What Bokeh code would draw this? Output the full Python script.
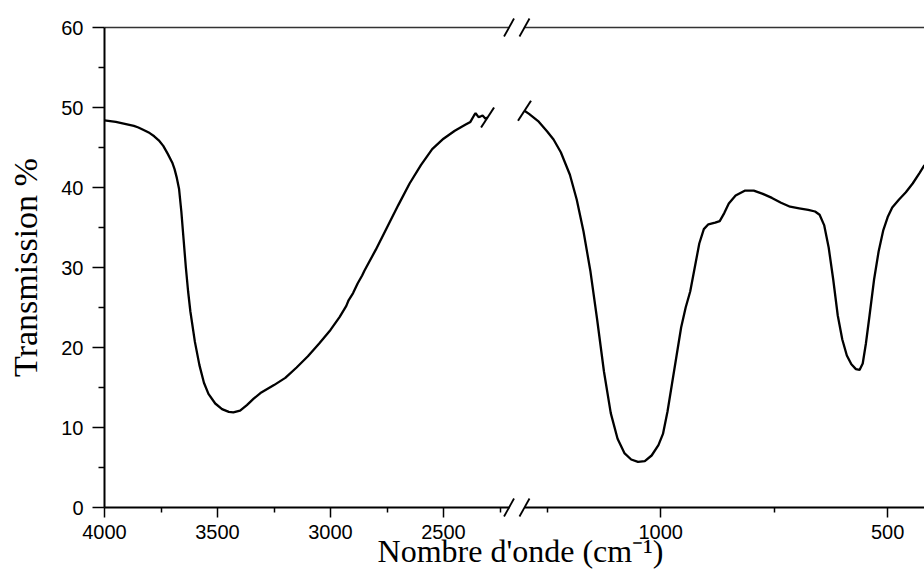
from bokeh.plotting import figure
from bokeh.models import Range1d, LinearAxis, FixedTicker, Arrow, Label
from bokeh.embed import file_html
from bokeh.resources import INLINE

# ---------------- data ----------------
wn_high = [4000, 3950, 3900, 3870, 3850, 3820, 3800, 3780, 3760, 3740, 3720, 3700,
           3690, 3680, 3670, 3660, 3650, 3640, 3630, 3620, 3600, 3580, 3560, 3540,
           3510, 3480, 3450, 3430, 3400, 3370, 3340, 3310, 3280, 3250, 3200, 3150,
           3100, 3050, 3000, 2960, 2930, 2920, 2900, 2880, 2860, 2850, 2800, 2750,
           2700, 2650, 2600, 2550, 2500, 2450, 2425, 2400, 2381, 2365, 2358, 2345,
           2335, 2327, 2314, 2305]
t_high = [48.4, 48.2, 47.9, 47.7, 47.5, 47.1, 46.8, 46.4, 45.9, 45.2, 44.2, 43.1,
          42.3, 41.2, 39.8, 37.0, 33.5, 30.0, 27.0, 24.5, 20.7, 17.8, 15.6, 14.2,
          13.0, 12.3, 11.95, 11.9, 12.1, 12.8, 13.6, 14.3, 14.8, 15.3, 16.2, 17.5,
          18.9, 20.5, 22.2, 23.8, 25.2, 25.9, 26.8, 28.0, 29.0, 29.6, 32.2, 35.0,
          37.8, 40.5, 42.8, 44.8, 46.1, 47.1, 47.5, 47.9, 48.2, 49.0, 49.3, 48.8,
          48.9, 49.0, 48.6, 48.75]

wn_low = [1300, 1290, 1270, 1250, 1236, 1220, 1200, 1185, 1170, 1155, 1140, 1125,
          1110, 1095, 1080, 1065, 1050, 1035, 1020, 1005, 995, 985, 975, 965, 955,
          945, 935, 925, 915, 905, 895, 880, 870, 860, 850, 835, 815, 795, 775, 755,
          735, 715, 695, 675, 660, 650, 640, 630, 620, 610, 600, 590, 580, 570, 562,
          555, 548, 540, 530, 520, 510, 500, 490, 475, 460, 445, 430, 419]
t_low = [49.6, 49.2, 48.3, 47.0, 46.0, 44.4, 41.6, 38.5, 34.5, 29.6, 23.5, 17.0,
         11.8, 8.6, 6.8, 6.0, 5.7, 5.8, 6.5, 7.8, 9.2, 12.0, 15.5, 19.0, 22.5, 25.0,
         27.0, 30.0, 33.0, 34.8, 35.4, 35.6, 35.8, 36.8, 38.0, 39.0, 39.6, 39.6, 39.2,
         38.7, 38.1, 37.6, 37.4, 37.2, 37.0, 36.6, 35.3, 32.5, 28.5, 24.0, 21.0, 19.0,
         17.9, 17.3, 17.2, 18.0, 20.5, 24.0, 28.5, 32.0, 34.6, 36.3, 37.5, 38.5, 39.4,
         40.5, 41.8, 42.8]

y_ticks = [0, 10, 20, 30, 40, 50, 60]
y_minor = [5, 15, 25, 35, 45, 55]
x_ticks_high = [4000, 3500, 3000, 2500]
x_minor_high = [3750, 3250, 2750, 2250]
x_ticks_low = [1000, 500]
x_minor_low = [1250, 750]

# ---------------- layout constants ----------------
W, H = 924, 570
LEFT_PX, TOP_PX, BOTTOM_PX = 104, 27, 507   # plot-area edges in pixels
S1 = 113 / 500.0        # px per cm-1, high-wavenumber segment
S2 = 113.5 / 250.0      # px per cm-1, low-wavenumber segment
PY = (BOTTOM_PX - TOP_PX) / 60.0   # px per % unit
HI_START, HI_BREAK = 4000, 2210
LO_START, LO_END = 1300, 400
LO_PX = 524             # pixel where the low segment starts
Y_LO, Y_HI = 0, 60

# the frame covers the whole canvas; axes are pinned with fixed_location
p = figure(width=W, height=H, output_backend="svg", toolbar_location=None,
           x_range=Range1d(HI_START + LEFT_PX / S1, HI_START - (W - LEFT_PX) / S1),
           y_range=Range1d(Y_LO - (H - BOTTOM_PX) / PY, Y_HI + TOP_PX / PY),
           x_axis_location=None, y_axis_location=None,
           min_border=0, min_border_left=0, min_border_right=0,
           min_border_top=0, min_border_bottom=0,
           background_fill_color="white", border_fill_color="white",
           outline_line_color=None)
p.extra_x_ranges = {"r": Range1d(LO_START + LO_PX / S2, LO_START - (W - LO_PX) / S2)}
p.grid.visible = False

# curves
p.line(wn_high, t_high, line_color="black", line_width=2.3)
p.line(wn_low, t_low, line_color="black", line_width=2.3, x_range_name="r")

# break marks on curve ends
dx1, dy1 = 6.5 / S1, 10 / PY
p.segment(x0=[wn_high[-1] + dx1], y0=[t_high[-1] - dy1],
          x1=[wn_high[-1] - dx1], y1=[t_high[-1] + dy1],
          line_color="black", line_width=2)
dx2 = 6.5 / S2
p.segment(x0=[wn_low[0] + dx2], y0=[t_low[0] - dy1],
          x1=[wn_low[0] - dx2], y1=[t_low[0] + dy1],
          line_color="black", line_width=2, x_range_name="r")

# y axis
ya = LinearAxis(ticker=FixedTicker(ticks=y_ticks, minor_ticks=y_minor),
                bounds=(Y_LO, Y_HI), fixed_location=HI_START)
ya.axis_line_width = 2
ya.major_tick_out, ya.major_tick_in = 12, 0
ya.minor_tick_out, ya.minor_tick_in = 6, 0
ya.major_tick_line_width = 1.5
ya.minor_tick_line_width = 1.5
ya.major_label_standoff = 9
ya.major_label_text_font = "Liberation Sans"
ya.major_label_text_font_size = "20px"
ya.major_label_text_color = "black"
ya.axis_label = "Transmission %"
ya.axis_label_text_font = "Liberation Serif"
ya.axis_label_text_font_style = "normal"
ya.axis_label_text_font_size = "34px"
ya.axis_label_text_color = "black"
ya.axis_label_standoff = 14
p.add_layout(ya, "left")


def bottom_axis(ticks, minor, bounds, rname):
    ax = LinearAxis(ticker=FixedTicker(ticks=ticks, minor_ticks=minor),
                    bounds=bounds, fixed_location=Y_LO, x_range_name=rname)
    ax.axis_line_width = 2
    ax.major_tick_out, ax.major_tick_in = 10, 0
    ax.minor_tick_out, ax.minor_tick_in = 5, 0
    ax.major_tick_line_width = 1.5
    ax.minor_tick_line_width = 1.5
    ax.major_label_standoff = 7
    ax.major_label_text_font = "Liberation Sans"
    ax.major_label_text_font_size = "20px"
    ax.major_label_text_color = "black"
    return ax


def top_axis(bounds, rname):
    ax = LinearAxis(ticker=FixedTicker(ticks=[]), bounds=bounds,
                    fixed_location=Y_HI, x_range_name=rname)
    ax.axis_line_width = 1.5
    ax.axis_line_color = "#333333"
    ax.major_tick_out = ax.major_tick_in = 0
    ax.minor_tick_out = ax.minor_tick_in = 0
    ax.major_label_text_font_size = "0px"
    return ax


p.add_layout(bottom_axis(x_ticks_high, x_minor_high, (HI_BREAK, HI_START), "default"), "below")
p.add_layout(bottom_axis(x_ticks_low, x_minor_low, (LO_END, LO_START), "r"), "below")
p.add_layout(top_axis((HI_BREAK, HI_START), "default"), "above")
p.add_layout(top_axis((LO_END, LO_START), "r"), "above")

# axis break slashes
sx1, sx2, sy = 5 / S1, 5 / S2, 9 / PY
for yl in (Y_LO, Y_HI):
    p.add_layout(Arrow(end=None, x_start=HI_BREAK + sx1, y_start=yl - sy,
                       x_end=HI_BREAK - sx1, y_end=yl + sy,
                       line_color="black", line_width=1.8))
    p.add_layout(Arrow(end=None, x_start=LO_START + sx2, y_start=yl - sy,
                       x_end=LO_START - sx2, y_end=yl + sy, x_range_name="r",
                       line_color="black", line_width=1.8))

# x axis title (spans both segments), kept just inside the bottom edge
title_px, title_bottom_px = 520, 568
p.add_layout(Label(x=HI_START - (title_px - LEFT_PX) / S1,
                   y=Y_LO - (title_bottom_px - BOTTOM_PX) / PY,
                   text="Nombre d'onde (cm\u207b\u00b9)", text_align="center",
                   text_baseline="bottom", text_font="Liberation Serif",
                   text_font_size="32px", text_color="black"))

open("out.html", "w").write(file_html(p, INLINE))
